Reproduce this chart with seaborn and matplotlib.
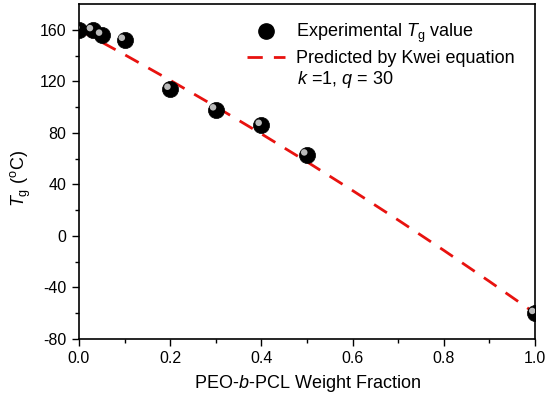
import matplotlib
matplotlib.use('Agg')
import matplotlib.pyplot as plt
import seaborn as sns
import pandas as pd
from matplotlib.lines import Line2D

weight_fraction = [0.0, 0.03, 0.05, 0.1, 0.2, 0.3, 0.4, 0.5, 1.0]
tg_exp = [160, 159.5, 156, 152, 114, 98, 86, 63, -60]

# Kwei prediction curve
fit_x = [0.0, 0.1, 0.2, 0.3, 0.4, 0.5, 0.6, 0.7, 0.8, 0.9, 1.0]
fit_y = [160, 140.7, 120.8, 100.3, 79.2, 57.5, 35.2, 12.3, -11.2, -35.3, -60]

exp_df = pd.DataFrame({'w': weight_fraction, 'tg': tg_exp})
fit_df = pd.DataFrame({'w': fit_x, 'tg': fit_y})

sns.set_style('ticks')
plt.rcParams['font.family'] = ['Liberation Sans', 'DejaVu Sans']
plt.rcParams['mathtext.fontset'] = 'custom'
plt.rcParams['mathtext.rm'] = 'Liberation Sans'
plt.rcParams['mathtext.it'] = 'Liberation Sans:italic'
plt.rcParams['axes.unicode_minus'] = False
for key in ['text.color', 'axes.labelcolor', 'xtick.color', 'ytick.color']:
    plt.rcParams[key] = 'black'

red = '#e8120f'
fig = plt.figure(figsize=(5.5, 3.99), dpi=100)
ax = fig.add_axes([0.1436, 0.1504, 0.8291, 0.8396])

sns.lineplot(data=fit_df, x='w', y='tg', ax=ax, color=red, lw=2, zorder=2)
ax.lines[-1].set_dashes((5.5, 4))
# sphere-like markers: black ball plus a grey highlight
sns.scatterplot(data=exp_df, x='w', y='tg', ax=ax, s=135, color='black',
                edgecolor='black', linewidth=0.5, zorder=3)
ax.scatter(exp_df['w'] - 0.006, exp_df['tg'] + 1.8, s=22, color='#d0d0d0',
           edgecolor='none', zorder=4, alpha=0.9)

ax.set_xlim(0, 1)
ax.set_ylim(-80, 180)
ax.set_xticks([0, 0.2, 0.4, 0.6, 0.8, 1.0])
ax.set_xticklabels(['0.0', '0.2', '0.4', '0.6', '0.8', '1.0'])
ax.set_xticks([0.1, 0.3, 0.5, 0.7, 0.9], minor=True)
ax.set_yticks([-80, -40, 0, 40, 80, 120, 160])
ax.set_yticks([-60, -20, 20, 60, 100, 140], minor=True)
ax.tick_params(which='major', length=5, width=1, labelsize=11.5, direction='out', pad=4)
ax.tick_params(which='minor', length=3, width=1, direction='out')
for sp in ax.spines.values():
    sp.set_linewidth(1.2)
    sp.set_color('black')

ax.set_xlabel('PEO-$\\mathit{b}$-PCL Weight Fraction', fontsize=13, labelpad=5)
ax.set_ylabel('$\\mathit{T}_\\mathrm{g}$ ($^\\mathrm{o}$C)', fontsize=13)
ax.yaxis.set_label_coords(-0.1, 0.48)

handles = [
    Line2D([], [], marker='o', color='black', ls='none', markersize=11),
    Line2D([], [], color=red, lw=2, dashes=(5.5, 4)),
]
labels = ['Experimental $\\mathit{T}_\\mathrm{g}$ value', 'Predicted by Kwei equation']
ax.legend(handles, labels, loc='upper left', frameon=False, fontsize=13,
          handlelength=2.1, handletextpad=0.6, borderpad=0.4,
          labelspacing=0.25, bbox_to_anchor=(0.333, 0.994))
ax.text(0.478, 0.776, '$\\mathit{k}$ =1, $\\mathit{q}$ = 30', transform=ax.transAxes,
        fontsize=13, va='center', ha='left')

fig.savefig('out.png', dpi=100)
